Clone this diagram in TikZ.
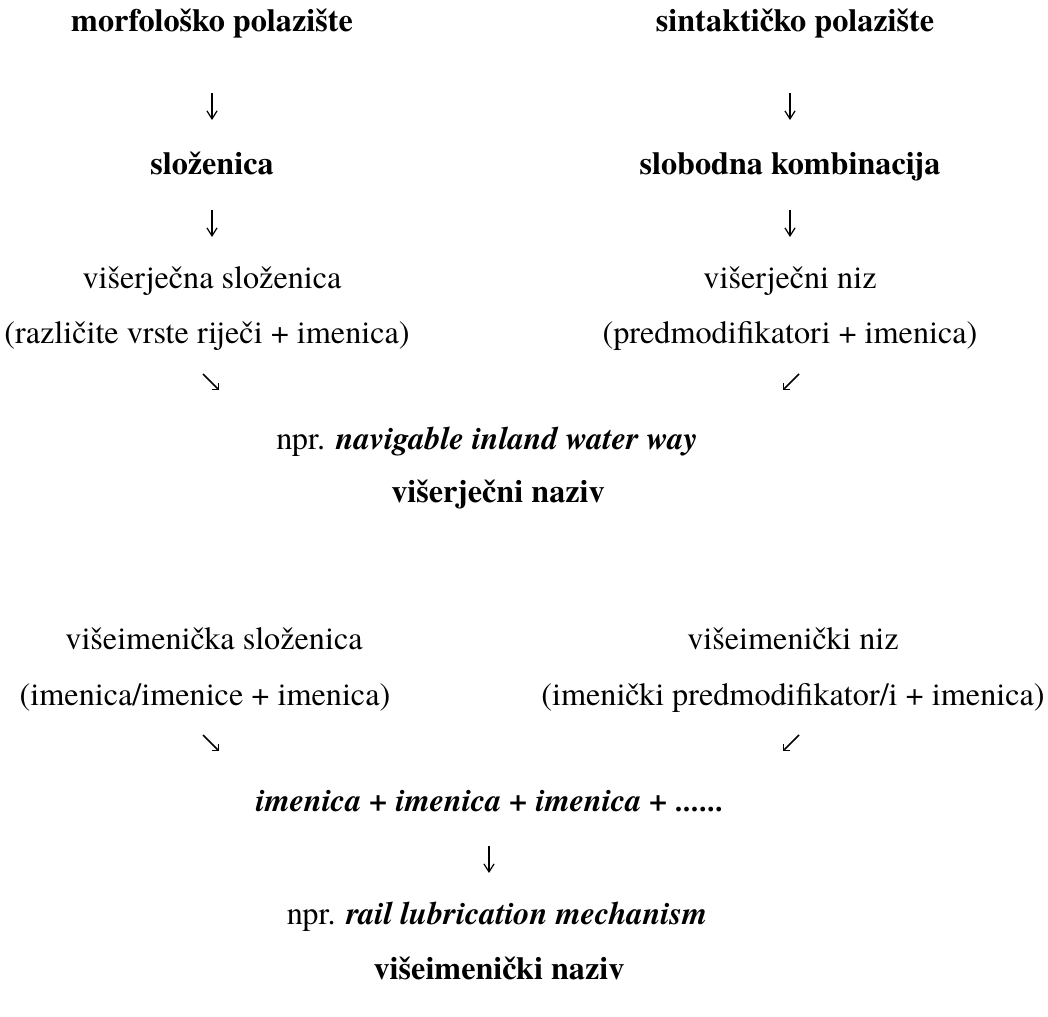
\documentclass[tikz,border=0pt]{standalone}
\usepackage{fontspec}
\setmainfont{TeX Gyre Termes}
\usepackage{tikz}
\usetikzlibrary{arrows.meta}

\tikzset{
  txt/.style={inner sep=0.75pt, text height=1.5ex, text depth=.3ex, font=\rmfamily\fontsize{12}{14}\selectfont},
  down/.style={line width=0.45pt, -{Straight Barb[length=3pt, width=3.8pt, line width=0.45pt]}},
  diag/.style={line width=0.55pt, -{Straight Barb[angle=90:2.4pt, line width=0.55pt]}}
}

\begin{document}
\begin{tikzpicture}[x=0.3726pt,y=0.3726pt,yscale=-1,xscale=1]
\useasboundingbox (0,0) rectangle (1048,1017);

% Text Node
\draw (212,24) node [txt] (morf) {\textbf{morfološko polazište}};
% Text Node
\draw (795,24) node [txt] (sint) {\textbf{sintaktičko polazište}};
% Text Node
\draw (212,167) node [txt] (slo) {\textbf{složenica}};
% Text Node
\draw (790,167) node [txt] (kom) {\textbf{slobodna kombinacija}};
% Text Node
\draw (212,281) node [txt] (vsl) {višerječna složenica};
% Text Node
\draw (790,281) node [txt] (vniz) {višerječni niz};
% Text Node
\draw (207,336) node [txt] (vrste) {(različite vrste riječi + imenica)};
% Text Node
\draw (790,336) node [txt] (pred) {(predmodifikatori + imenica)};
% Text Node
\draw (487,442) node [txt] (npr1) {npr. \textbf{\textit{navigable inland water way}}};
% Text Node
\draw (498,495) node [txt] (vnaz) {\textbf{višerječni naziv}};

% Text Node
\draw (214,642) node [txt] (isl) {višeimenička složenica};
% Text Node
\draw (793,642) node [txt] (iniz) {višeimenički niz};
% Text Node
\draw (205,698) node [txt] (imim) {(imenica/imenice + imenica)};
% Text Node
\draw (793,698) node [txt] (ipred) {(imenički predmodifikator/i + imenica)};
% Text Node
\draw (490,804) node [txt] (zbroj) {\textbf{\textit{imenica + imenica + imenica + ......}}};
% Text Node
\draw (497,917) node [txt] (npr2) {npr. \textbf{\textit{rail lubrication mechanism}}};
% Text Node
\draw (499,972) node [txt] (inaz) {\textbf{višeimenički naziv}};

%Arrow ends
\coordinate (a1) at (212,93);  \coordinate (b1) at (212,120);
\coordinate (a2) at (790,93);  \coordinate (b2) at (790,120);
\coordinate (a3) at (212,210); \coordinate (b3) at (212,237);
\coordinate (a4) at (790,210); \coordinate (b4) at (790,237);
\coordinate (a5) at (203,374); \coordinate (b5) at (219,390);
\coordinate (a6) at (799,374); \coordinate (b6) at (783,390);
\coordinate (a7) at (203,735); \coordinate (b7) at (219,751);
\coordinate (a8) at (799,735); \coordinate (b8) at (783,751);
\coordinate (a9) at (489,846); \coordinate (b9) at (489,873);

%Straight Lines
\draw [down] (a1) -- (b1) ;
\draw [down] (a2) -- (b2) ;
\draw [down] (a3) -- (b3) ;
\draw [down] (a4) -- (b4) ;
\draw [down] (a9) -- (b9) ;
%Diagonal Lines
\draw [diag] (a5) -- (b5) ;
\draw [diag] (a6) -- (b6) ;
\draw [diag] (a7) -- (b7) ;
\draw [diag] (a8) -- (b8) ;

\end{tikzpicture}
\end{document}
